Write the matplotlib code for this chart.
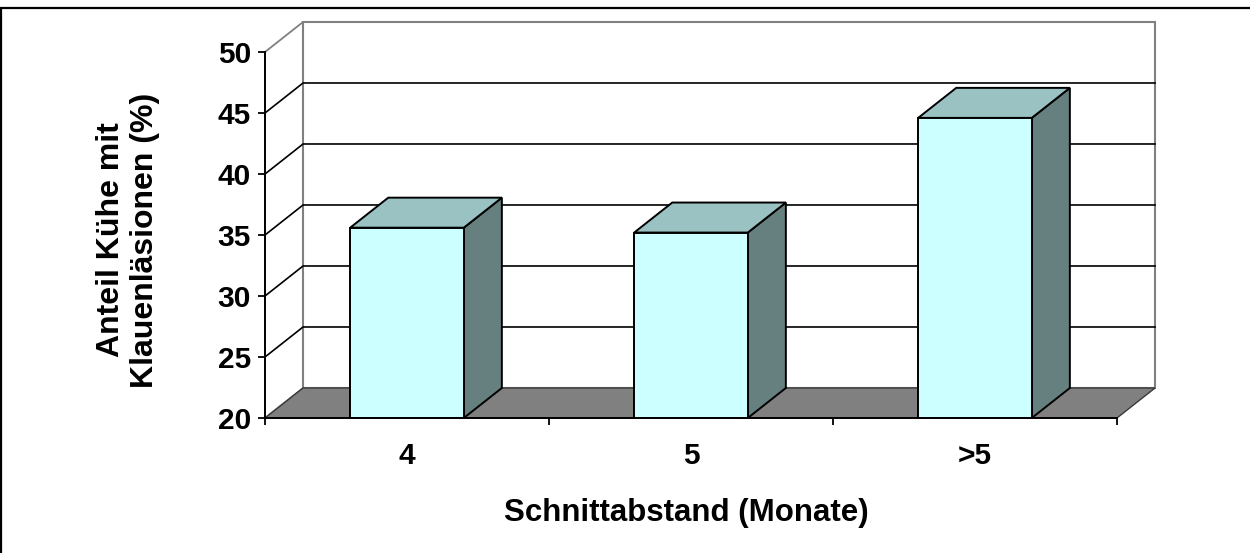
import matplotlib
matplotlib.use("Agg")
import matplotlib.pyplot as plt
from matplotlib.patches import Polygon, Rectangle

# Anteil Kühe mit Klauenläsionen je Schnittabstand
categories = ["4", "5", ">5"]
values = [35.6, 35.2, 44.6]
y_ticks = [20, 25, 30, 35, 40, 45, 50]

Y_MIN, Y_MAX = 20, 50
BAR_W = 0.4          # Balkenbreite in Kategorie-Einheiten
DX, DY = 0.134, 2.46  # Tiefenversatz (x in Kategorien, y in %)

FACE = "#CCFFFF"
TOP = "#9AC2C2"
SIDE = "#668080"
FLOOR = "#808080"
WALL_EDGE = "#808080"

plt.rcParams["font.family"] = ["Liberation Sans", "DejaVu Sans"]
plt.rcParams["font.weight"] = "bold"

fig = plt.figure(figsize=(12.5, 5.53), dpi=100)
fig.patch.set_facecolor("white")
ax = fig.add_axes([265 / 1250, 135 / 553, 852 / 1250, 366 / 553])
ax.set_facecolor("none")
n = len(categories)
ax.set_xlim(0, n)
ax.set_ylim(Y_MIN, Y_MAX)


def poly(pts, **kw):
    p = Polygon(pts, closed=True, clip_on=False, **kw)
    ax.add_patch(p)
    return p


# Seitenwand und Rückwand
poly([(0, Y_MIN), (DX, Y_MIN + DY), (DX, Y_MAX + DY), (0, Y_MAX)],
     facecolor="white", edgecolor=WALL_EDGE, lw=1.3, zorder=1)
poly([(DX, Y_MIN + DY), (n + DX, Y_MIN + DY), (n + DX, Y_MAX + DY), (DX, Y_MAX + DY)],
     facecolor="white", edgecolor=WALL_EDGE, lw=1.5, zorder=1)

# Gitterlinien auf beiden Wänden
for yt in y_ticks[1:-1]:
    ax.plot([0, DX, n + DX], [yt, yt + DY, yt + DY], color="black", lw=1.2,
            clip_on=False, zorder=2)

# Boden
poly([(0, Y_MIN), (n, Y_MIN), (n + DX, Y_MIN + DY), (DX, Y_MIN + DY)],
     facecolor=FLOOR, edgecolor="#3a3a3a", lw=1.0, zorder=3)

# Balken: Seite, Deckel, Vorderseite
for i, v in enumerate(values):
    x0 = i + 0.5 - BAR_W / 2
    x1 = x0 + BAR_W
    poly([(x1, Y_MIN), (x1 + DX, Y_MIN + DY), (x1 + DX, v + DY), (x1, v)],
         facecolor=SIDE, edgecolor="black", lw=1.4, zorder=4)
    poly([(x0, v), (x1, v), (x1 + DX, v + DY), (x0 + DX, v + DY)],
         facecolor=TOP, edgecolor="black", lw=1.4, zorder=4)
    ax.add_patch(Rectangle((x0, Y_MIN), BAR_W, v - Y_MIN, facecolor=FACE,
                           edgecolor="black", lw=1.4, zorder=5, clip_on=False))

# Achsen
for side in ("top", "right"):
    ax.spines[side].set_visible(False)
for side in ("left", "bottom"):
    ax.spines[side].set_linewidth(1.4)
    ax.spines[side].set_zorder(6)

ax.set_yticks(y_ticks)
ax.set_yticklabels([str(t) for t in y_ticks])
ax.tick_params(axis="y", direction="out", length=5, width=1.3, pad=5,
               labelsize=21.5)
ax.set_xticks(range(n + 1))
ax.set_xticklabels([])
ax.tick_params(axis="x", which="major", direction="out", length=5, width=1.3)
ax.set_xticks([i + 0.5 for i in range(n)], minor=True)
ax.set_xticklabels(categories, minor=True)
ax.tick_params(axis="x", which="minor", length=0, pad=17, labelsize=21.5)
for lab in ax.get_xticklabels(minor=True) + ax.get_yticklabels():
    lab.set_fontweight("bold")

# Achsentitel
fig.text(686 / 1250, 1 - 513 / 553, "Schnittabstand (Monate)", ha="center",
         va="center", fontsize=22.5, fontweight="bold")
fig.text(128 / 1250, 1 - 240 / 553, "Anteil Kühe mit\nKlauenläsionen (%)",
         rotation=90, ha="center", va="center", multialignment="center",
         fontsize=23, fontweight="bold", linespacing=1.2)

# Rahmen um das Diagramm
fig.add_artist(Rectangle((1.5 / 1250, -0.1), 1.2, 1.1 - 8 / 553,
                         transform=fig.transFigure, fill=False,
                         edgecolor="black", lw=1.6))

fig.savefig("out.png", dpi=100, facecolor="white")
